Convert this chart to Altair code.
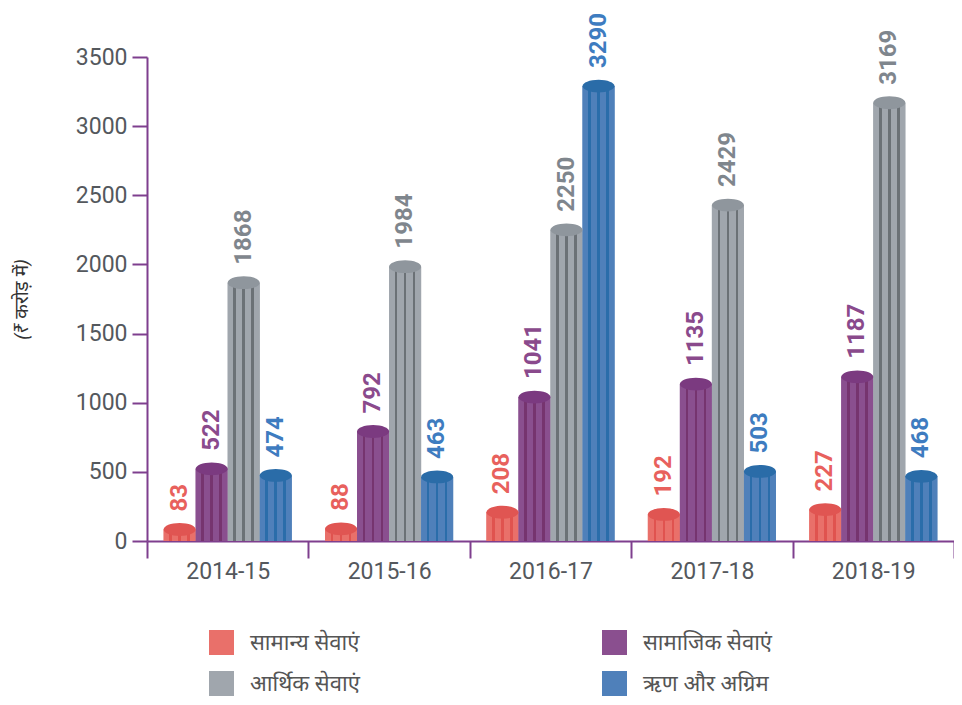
import altair as alt
import pandas as pd

years = ["2014-15", "2015-16", "2016-17", "2017-18", "2018-19"]
series = ["सामान्य सेवाएं", "सामाजिक सेवाएं", "आर्थिक सेवाएं", "ऋण और अग्रिम"]
general = [83, 88, 208, 192, 227]
social = [522, 792, 1041, 1135, 1187]
economic = [1868, 1984, 2250, 2429, 3169]
loans = [474, 463, 3290, 503, 468]

body_colors = ["#E9706A", "#8A4F8F", "#A0A6AD", "#4F80BA"]
stripe_colors = ["#E0534F", "#76346F", "#6B7176", "#2A6DAA"]
cap_colors = ["#E05552", "#7B3A80", "#8F969D", "#2A6CA8"]
label_colors = ["#E8615D", "#8A4A8C", "#7F868D", "#3E7CC0"]
y_ticks = [0, 500, 1000, 1500, 2000, 2500, 3000, 3500]

values = [general, social, economic, loans]
rows = []
for i, s in enumerate(series):
    for j, yr in enumerate(years):
        rows.append({"year": yr, "series": s, "value": values[i][j],
                     "cap": cap_colors[i], "lab": label_colors[i]})
df = pd.DataFrame(rows)

AXIS = "#7E3F8E"

x_enc = alt.X("year:N", sort=years,
              scale=alt.Scale(paddingInner=0, paddingOuter=0),
              axis=alt.Axis(title=None, labelFont="Roboto", labelFontSize=23,
                            labelColor="#54585D", labelAngle=0, tickBand="extent",
                            tickSize=17, tickWidth=2, tickColor=AXIS,
                            domainColor=AXIS, domainWidth=2, labelPadding=2))
xo_enc = alt.XOffset("series:N", sort=series,
                     scale=alt.Scale(domain=series, paddingInner=0, paddingOuter=0.52))
y_enc = alt.Y("value:Q",
              scale=alt.Scale(domain=[0, 3500], nice=False),
              axis=alt.Axis(title="(₹ करोड़ में)", values=y_ticks, grid=False, format="d",
                            labelFont="Roboto", labelFontSize=23, labelColor="#54585D",
                            tickSize=15, tickWidth=2, tickColor=AXIS,
                            domainColor=AXIS, domainWidth=2, labelPadding=5,
                            titleFont="Noto Sans", titleFontSize=19,
                            titleFontStyle="italic", titleFontWeight="normal",
                            titleColor="#333333", titlePadding=44))

base = alt.Chart(df)

bars = base.mark_bar().encode(
    x=x_enc, xOffset=xo_enc, y=y_enc,
    color=alt.Color("series:N", sort=series,
                    scale=alt.Scale(domain=series, range=body_colors),
                    legend=alt.Legend(title=None, orient="none", legendX=62, legendY=573,
                                      columns=2, direction="horizontal",
                                      symbolType="square", symbolSize=625,
                                      symbolStrokeWidth=0, labelFont="Noto Sans",
                                      labelFontSize=22, labelColor="#555555",
                                      labelOffset=16, columnPadding=242, rowPadding=16,
                                      labelLimit=400))
)

def stripes_gradient(body, stripe):
    stops = []
    edges = [(0.18, 0.26), (0.46, 0.54), (0.74, 0.82)]
    stops.append(alt.GradientStop(offset=0, color=body))
    for a, b in edges:
        stops.append(alt.GradientStop(offset=a, color=body))
        stops.append(alt.GradientStop(offset=a, color=stripe))
        stops.append(alt.GradientStop(offset=b, color=stripe))
        stops.append(alt.GradientStop(offset=b, color=body))
    stops.append(alt.GradientStop(offset=1, color=body))
    return alt.Gradient(gradient="linear", x1=0, x2=1, y1=0, y2=0, stops=stops)

stripe_layers = []
for i, s in enumerate(series):
    stripe_layers.append(
        base.transform_filter(alt.datum.series == s)
        .mark_bar(color=stripes_gradient(body_colors[i], stripe_colors[i]))
        .encode(x=x_enc, xOffset=xo_enc, y=y_enc)
    )

ellipse = "M -1 0 A 1 0.4 0 1 1 1 0 A 1 0.4 0 1 1 -1 0 Z"
caps = base.mark_point(shape=ellipse, filled=True, size=1024, opacity=1, strokeWidth=0).encode(
    x=x_enc, xOffset=xo_enc, y=y_enc,
    color=alt.Color("cap:N", scale=None)
)

labels = base.mark_text(angle=270, align="left", baseline="middle", dx=18,
                        font="Roboto", fontSize=24, fontWeight="bold").encode(
    x=x_enc, xOffset=xo_enc, y=y_enc,
    text=alt.Text("value:Q"),
    color=alt.Color("lab:N", scale=None)
)

chart = alt.layer(bars, *stripe_layers, caps, labels).resolve_scale(
    color="independent"
).properties(
    width=807, height=484,
    autosize=alt.AutoSizeParams(type="none"),
    padding={"left": 139, "top": 49, "right": 0, "bottom": 156},
    background="white"
).configure_view(stroke=None)

chart.save("out.html", embed_options={"renderer": "svg", "actions": False})
